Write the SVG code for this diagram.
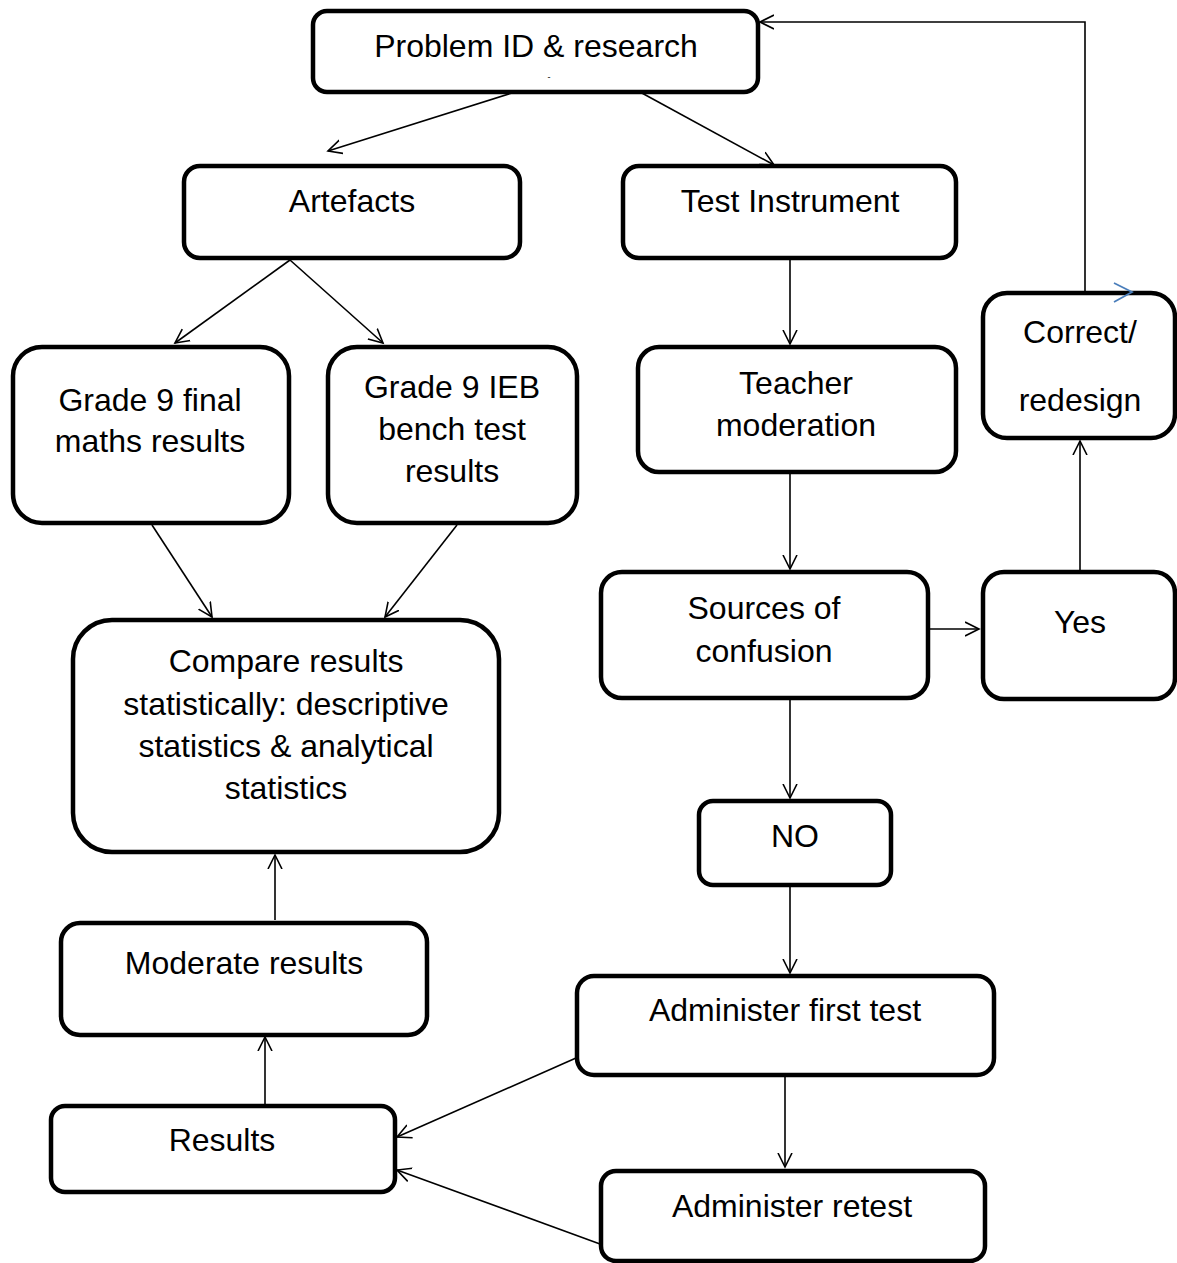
<svg xmlns="http://www.w3.org/2000/svg" width="1177" height="1263" viewBox="0 0 1177 1263">
<style>
.box{fill:#fff;stroke:#000;stroke-width:4.5}
.t{font-family:"Liberation Sans",Arial,sans-serif;font-size:32px;fill:#000;text-anchor:middle}
.c{fill:none;stroke:#000;stroke-width:1.6}
</style>
<defs>
<marker id="ah" markerUnits="userSpaceOnUse" markerWidth="18" markerHeight="18" refX="14" refY="8" orient="auto" viewBox="0 0 18 18">
<path d="M0,1 L14,8 L0,15" fill="none" stroke="#000" stroke-width="1.6"/>
</marker>
</defs>
<rect width="1177" height="1263" fill="#fff"/>
<g id="connectors">
<line class="c" x1="515" y1="92" x2="328" y2="151" marker-end="url(#ah)"/>
<line class="c" x1="640" y1="92" x2="774" y2="165" marker-end="url(#ah)"/>
<line class="c" x1="290" y1="260" x2="175" y2="343" marker-end="url(#ah)"/>
<line class="c" x1="290" y1="260" x2="383" y2="343" marker-end="url(#ah)"/>
<line class="c" x1="790" y1="260" x2="790" y2="344" marker-end="url(#ah)"/>
<line class="c" x1="790" y1="474" x2="790" y2="569" marker-end="url(#ah)"/>
<line class="c" x1="152" y1="525" x2="212" y2="617" marker-end="url(#ah)"/>
<line class="c" x1="457" y1="525" x2="385" y2="617" marker-end="url(#ah)"/>
<line class="c" x1="928" y1="629" x2="979" y2="629" marker-end="url(#ah)"/>
<line class="c" x1="1080" y1="571" x2="1080" y2="441" marker-end="url(#ah)"/>
<polyline class="c" points="1085,292 1085,22 760,22" marker-end="url(#ah)"/>
<line class="c" x1="790" y1="700" x2="790" y2="798" marker-end="url(#ah)"/>
<line class="c" x1="790" y1="887" x2="790" y2="973" marker-end="url(#ah)"/>
<line class="c" x1="785" y1="1077" x2="785" y2="1167" marker-end="url(#ah)"/>
<line class="c" x1="576" y1="1058" x2="397" y2="1137" marker-end="url(#ah)"/>
<line class="c" x1="600" y1="1244" x2="397" y2="1170" marker-end="url(#ah)"/>
<line class="c" x1="265" y1="1105" x2="265" y2="1037" marker-end="url(#ah)"/>
<line class="c" x1="275" y1="920" x2="275" y2="855" marker-end="url(#ah)"/>
</g>
<g id="problem"><rect class="box" x="313" y="11" width="445" height="81" rx="14"/><text class="t" x="536" y="57">Problem ID &amp; research</text><text x="549" y="80" font-family="Liberation Sans,sans-serif" font-size="9" text-anchor="middle">-</text></g>
<g id="artefacts"><rect class="box" x="184" y="166" width="336" height="92" rx="16"/><text class="t" x="352" y="212">Artefacts</text></g>
<g id="test-instrument"><rect class="box" x="623" y="166" width="333" height="92" rx="16"/><text class="t" x="790" y="212">Test Instrument</text></g>
<g id="grade9-final"><rect class="box" x="13" y="347" width="276" height="176" rx="29"/><text class="t" x="150" y="411">Grade 9 final</text><text class="t" x="150" y="452">maths results</text></g>
<g id="grade9-ieb"><rect class="box" x="328" y="347" width="249" height="176" rx="29"/><text class="t" x="452" y="398">Grade 9 IEB</text><text class="t" x="452" y="440">bench test</text><text class="t" x="452" y="482">results</text></g>
<g id="teacher-moderation"><rect class="box" x="638" y="347" width="318" height="125" rx="21"/><text class="t" x="796" y="394">Teacher</text><text class="t" x="796" y="436">moderation</text></g>
<g id="correct-redesign"><rect class="box" x="983" y="293" width="192" height="145" rx="24"/><text class="t" x="1080" y="343">Correct/</text><text class="t" x="1080" y="411">redesign</text></g>
<g id="compare"><rect class="box" x="73" y="620" width="426" height="232" rx="39"/><text class="t" x="286" y="672">Compare results</text><text class="t" x="286" y="715">statistically: descriptive</text><text class="t" x="286" y="757">statistics &amp; analytical</text><text class="t" x="286" y="799">statistics</text></g>
<g id="sources"><rect class="box" x="601" y="572" width="327" height="126" rx="21"/><text class="t" x="764" y="619">Sources of</text><text class="t" x="764" y="662">confusion</text></g>
<g id="yes"><rect class="box" x="983" y="572" width="192" height="127" rx="21"/><text class="t" x="1080" y="633">Yes</text></g>
<g id="no"><rect class="box" x="699" y="801" width="192" height="84" rx="14"/><text class="t" x="795" y="847">NO</text></g>
<g id="moderate-results"><rect class="box" x="61" y="923" width="366" height="112" rx="19"/><text class="t" x="244" y="974">Moderate results</text></g>
<g id="administer-first"><rect class="box" x="577" y="976" width="417" height="99" rx="17"/><text class="t" x="785" y="1021">Administer first test</text></g>
<g id="results"><rect class="box" x="51" y="1106" width="344" height="86" rx="14"/><text class="t" x="222" y="1151">Results</text></g>
<g id="administer-retest"><rect class="box" x="601" y="1171" width="384" height="90" rx="15"/><text class="t" x="792" y="1217">Administer retest</text></g>
<g id="blue-mark"><polyline points="1114,283 1132,292 1114,302" fill="none" stroke="#4a7ebb" stroke-width="1.8"/></g>
</svg>
